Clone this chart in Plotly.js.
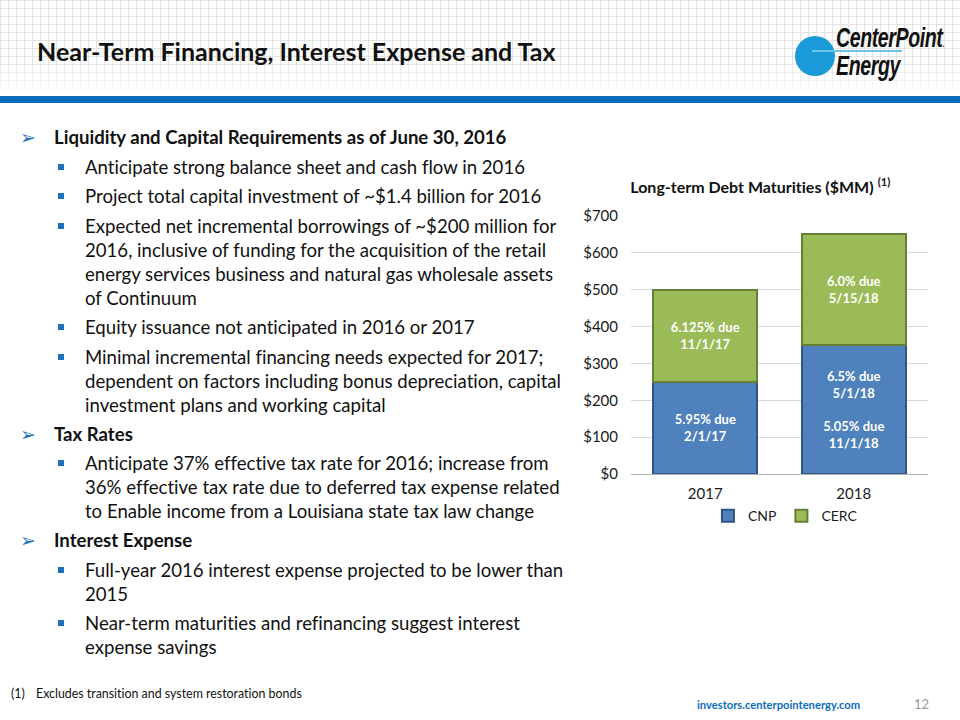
<!DOCTYPE html>
<html>
<head>
<meta charset="utf-8">
<script src="https://cdn.plot.ly/plotly-3.0.1.min.js"></script>
<style>
  html, body { margin:0; padding:0; background:#fff; }
  #slide { position:relative; width:960px; height:720px; overflow:hidden; background:#fff; font-family:Lato, "Open Sans", sans-serif; color:#111; font-variant-ligatures:none; font-feature-settings:"liga" 0, "clig" 0; }
  #hdr { position:absolute; left:0; top:0; width:960px; height:94px;
    background-image: linear-gradient(to right, #e3e3e3 1px, transparent 1px), linear-gradient(to bottom, #e3e3e3 1px, transparent 1px);
    background-size: 8px 8px; }
  #hdrfade { position:absolute; left:0; top:60px; width:960px; height:36px; background:linear-gradient(to bottom, rgba(255,255,255,0), rgba(255,255,255,1)); }
  #bar { position:absolute; left:0; top:96px; width:960px; height:7px; background:#0a6cbd; }
  #title { position:absolute; left:37px; top:36px; font-size:25px; font-weight:700; color:#111; white-space:nowrap; }
  .p { position:absolute; line-height:24px; font-size:18.6px; white-space:nowrap; }
  .h { left:54px; font-weight:700; }
  .b { left:85px; }
  .arrow { position:absolute; left:20px; font-family:"DejaVu Sans"; font-size:19px; color:#1f6fbf; line-height:24px; }
  .sq { position:absolute; left:58px; width:6px; height:6px; background:#1f6fbf; }
  #foot1 { position:absolute; left:11px; top:686px; font-size:12.4px; white-space:nowrap; }
  #foot2 { position:absolute; left:36px; top:686px; font-size:12.4px; white-space:nowrap; }
  #url { position:absolute; left:697px; top:698px; font-size:11.2px; font-weight:700; color:#0a6cbd; white-space:nowrap; }
  #pg { position:absolute; left:914px; top:696px; font-size:13px; color:#9a9a9a; }
  #chart { position:absolute; left:0; top:0; width:960px; height:720px; }
  #logoC { position:absolute; left:795px; top:36px; width:40px; height:40px; border-radius:50%; background:#1a9ad9; }
  #logoL { position:absolute; left:812px; top:50px; width:90px; height:2px; background:#6cc3ec; }
  .lt { position:absolute; font-family:"Liberation Sans", Arial, sans-serif; font-weight:700; font-style:italic; color:#111; transform-origin:left top; transform:scaleX(0.7); white-space:nowrap; letter-spacing:-0.6px; line-height:22px; height:22px; }
</style>
</head>
<body>
<div id="slide">
  <div id="hdr"></div>
  <div id="hdrfade"></div>
  <div id="bar"></div>
  <div id="title">Near-Term Financing, Interest Expense and Tax</div>

  <div id="logoC"></div>
  <div id="logoL"></div>
  <div class="lt" style="left:836px; top:27px; font-size:28px;">CenterPoint<span style="font-size:9px; font-style:normal;">.</span></div>
  <div class="lt" style="left:836px; top:55px; font-size:28px;">Energy</div>

  <div class="arrow" style="top:125px;">&#10146;</div>
  <div class="p h" style="top:125px;">Liquidity and Capital Requirements as of June 30, 2016</div>

  <div class="sq" style="top:164px;"></div>
  <div class="p b" style="top:155px;">Anticipate strong balance sheet and cash flow in 2016</div>
  <div class="sq" style="top:193px;"></div>
  <div class="p b" style="top:184px;">Project total capital investment of ~$1.4 billion for 2016</div>
  <div class="sq" style="top:223px;"></div>
  <div class="p b" style="top:214px;">Expected net incremental borrowings of ~$200 million for<br>2016, inclusive of funding for the acquisition of the retail<br>energy services business and natural gas wholesale assets<br>of Continuum</div>
  <div class="sq" style="top:324px;"></div>
  <div class="p b" style="top:315px;">Equity issuance not anticipated in 2016 or 2017</div>
  <div class="sq" style="top:354px;"></div>
  <div class="p b" style="top:345px;">Minimal incremental financing needs expected for 2017;<br>dependent on factors including bonus depreciation, capital<br>investment plans and working capital</div>

  <div class="arrow" style="top:422px;">&#10146;</div>
  <div class="p h" style="top:422px;">Tax Rates</div>
  <div class="sq" style="top:460px;"></div>
  <div class="p b" style="top:451px;">Anticipate 37% effective tax rate for 2016; increase from<br>36% effective tax rate due to deferred tax expense related<br>to Enable income from a Louisiana state tax law change</div>

  <div class="arrow" style="top:528px;">&#10146;</div>
  <div class="p h" style="top:528px;">Interest Expense</div>
  <div class="sq" style="top:567px;"></div>
  <div class="p b" style="top:558px;">Full-year 2016 interest expense projected to be lower than<br>2015</div>
  <div class="sq" style="top:620px;"></div>
  <div class="p b" style="top:611px;">Near-term maturities and refinancing suggest interest<br>expense savings</div>

  <div id="foot1">(1)</div>
  <div id="foot2">Excludes transition and system restoration bonds</div>
  <div id="url">investors.centerpointenergy.com</div>
  <div id="pg">12</div>

  <div id="chart"></div>
</div>
<script>
// ---- data ----
var years = ['2017', '2018'];
var cnpValues = [250, 350];
var cercValues = [250, 300];
var cnpLabels = ['5.95% due<br>2/1/17', '6.5% due<br>5/1/18<br><br>5.05% due<br>11/1/18'];
var cercLabels = ['6.125% due<br>11/1/17', '6.0% due<br>5/15/18'];
var yTickVals = [0, 100, 200, 300, 400, 500, 600, 700];
var yTickText = ['$0', '$100', '$200', '$300', '$400', '$500', '$600', '$700'];

var barFont = {family: 'Lato, sans-serif', size: 13, color: '#ffffff', weight: 700};

var traces = [
  {
    type: 'bar', name: 'CNP', x: years, y: cnpValues, text: cnpLabels,
    textposition: 'inside', insidetextanchor: 'middle', textangle: 0,
    textfont: barFont, constraintext: 'none',
    marker: {color: '#4f81bd', line: {color: '#2f5487', width: 2}},
    hoverinfo: 'skip'
  },
  {
    type: 'bar', name: 'CERC', x: years, y: cercValues, text: cercLabels,
    textposition: 'inside', insidetextanchor: 'middle', textangle: 0,
    textfont: barFont, constraintext: 'none',
    marker: {color: '#9bbb59', line: {color: '#667f33', width: 2}},
    hoverinfo: 'skip'
  }
];

var layout = {
  width: 960, height: 720,
  paper_bgcolor: 'rgba(0,0,0,0)', plot_bgcolor: 'rgba(0,0,0,0)',
  margin: {l: 631, r: 32, t: 216, b: 246, pad: 0},
  barmode: 'stack', bargap: 0.3,
  showlegend: true,
  font: {family: 'Lato, sans-serif', color: '#1a1a1a'},
  title: {
    text: '<b>Long-term Debt Maturities ($MM)</b> <b><sup>(1)</sup></b>',
    font: {family: 'Lato, sans-serif', size: 16, color: '#111'},
    xref: 'container', yref: 'container', x: 0.792, y: 1 - 187/720,
    xanchor: 'center', yanchor: 'middle'
  },
  xaxis: {
    type: 'category', showgrid: false, zeroline: false,
    showline: true, linecolor: '#b3b3b3', linewidth: 1,
    ticks: '', tickfont: {size: 15, color: '#1a1a1a'}, ticklabelstandoff: 6,
    fixedrange: true
  },
  yaxis: {
    range: [0, 700], tickvals: yTickVals, ticktext: yTickText,
    showgrid: true, gridcolor: '#d9d9d9', gridwidth: 1,
    zeroline: false, showline: false, ticks: '',
    tickfont: {size: 15, color: '#1a1a1a'}, ticklabelstandoff: 12,
    fixedrange: true
  },
  legend: {
    orientation: 'h', x: 0.52, xanchor: 'center', y: -0.163, yanchor: 'middle',
    font: {size: 14, color: '#1a1a1a'}, traceorder: 'normal',
    itemwidth: 30, bgcolor: 'rgba(0,0,0,0)'
  }
};

Plotly.newPlot('chart', traces, layout, {staticPlot: true, displayModeBar: false});
</script>
</body>
</html>
